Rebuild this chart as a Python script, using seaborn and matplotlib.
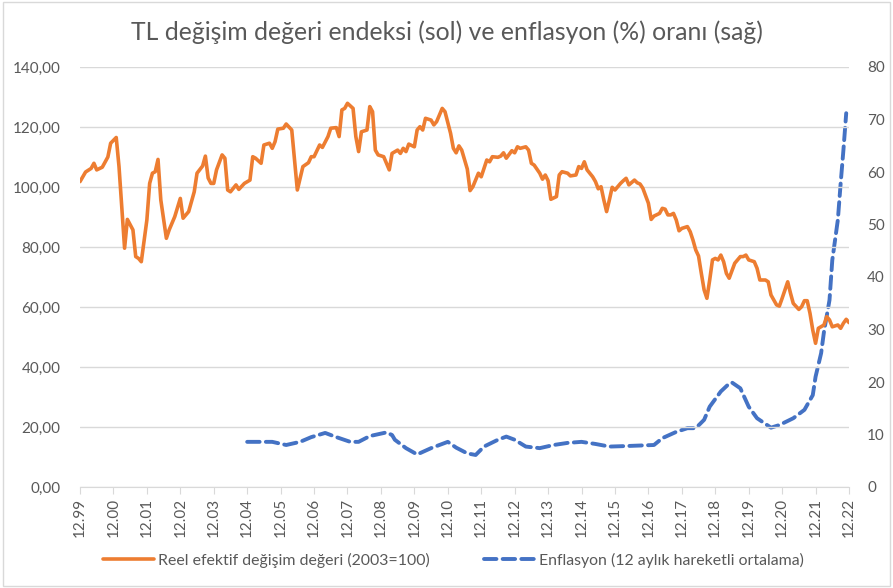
import pandas as pd
import numpy as np
from matplotlib import pyplot as plt
from matplotlib.patches import Rectangle
from matplotlib.ticker import FuncFormatter
import seaborn as sns

# %%
# Veriler (ay: 12.1999'dan itibaren ay sayısı)
reer_ay = [0, 2, 4, 5, 6, 8, 10, 11, 13, 14, 16, 17, 19, 20, 21, 22, 24, 25, 26, 27,
           28, 29, 31, 32, 34, 36, 37, 39, 41, 42, 44, 45, 46, 47, 48, 49, 51, 52, 53, 54,
           56, 57, 59, 61, 62, 63, 65, 66, 68, 69, 70, 71, 73, 74, 76, 78, 80, 82, 83, 84,
           86, 87, 89, 90, 92, 93, 94, 95, 96, 98, 99, 100, 101, 103, 104, 105, 106, 107, 109, 110,
           111, 112, 114, 115, 116, 117, 118, 120, 121, 122, 123, 124, 126, 127, 128, 130, 131, 133, 134, 135,
           136, 137, 139, 140, 141, 143, 144, 146, 147, 148, 150, 151, 152, 153, 155, 156, 157, 158, 160, 161,
           162, 163, 165, 166, 167, 168, 169, 171, 172, 173, 175, 176, 178, 179, 180, 181, 182, 184, 185, 186,
           187, 188, 189, 190, 191, 192, 194, 195, 196, 197, 199, 200, 201, 202, 204, 205, 206, 208, 209, 210,
           211, 212, 213, 214, 215, 216, 218, 219, 220, 221, 222, 223, 224, 225, 226, 227, 228, 229, 230, 231,
           232, 233, 235, 237, 238, 239, 240, 242, 243, 244, 246, 247, 248, 250, 251, 252, 254, 255, 256, 258,
           259, 260, 261, 262, 263, 264, 265, 267, 268, 269, 270, 272, 273, 274, 275, 276]
reer = [101.8, 105, 106.2, 107.9, 105.7, 106.6, 110, 114.6, 116.5, 106.8, 79.6, 89.2, 85.7, 76.8, 76.2, 75.1, 89, 101.2, 104.6, 105.1,
        109.2, 95.7, 82.9, 85.7, 90.1, 96.2, 89.6, 91.8, 98.4, 104.6, 107, 110.3, 103, 101.2, 101.2, 105.7, 110.7, 109.6, 99, 98.4,
        100.7, 99.2, 101.2, 102.3, 110.1, 109.6, 107.9, 114, 114.6, 112.9, 115.1, 119.3, 119.6, 121, 119, 99, 106.8, 108.1, 110.1, 110.1,
        114, 113.2, 116.8, 119.6, 119.8, 116.8, 125.7, 126.2, 127.9, 126.2, 116.8, 111.8, 118.4, 119, 126.8, 125.1, 112.3, 110.7, 110.1, 107.9,
        105.7, 111.2, 112.3, 111.2, 112.9, 111.8, 114.3, 113.4, 119, 120.1, 119, 122.9, 122.3, 120.7, 121.8, 126.2, 125.1, 117.9, 112.9, 111.4,
        113.7, 112.3, 106, 98.8, 100.1, 104.6, 103.4, 109, 108.4, 110.1, 109.9, 110.3, 111.4, 109.6, 112.1, 111.4, 113.4, 112.9, 113.4, 112.3,
        107.9, 107.3, 104.6, 102.6, 104, 102.1, 95.9, 96.8, 104, 105.1, 104.6, 103.7, 104, 106.8, 106.2, 108.4, 105.7, 103.4, 101.8, 99.4,
        100.1, 95.7, 91.8, 95.7, 99.9, 99, 101.2, 102.1, 102.9, 100.7, 102.3, 101.4, 101, 99.6, 94.6, 89.2, 90.3, 91.2, 92.9, 92.6,
        90.7, 90.7, 91.2, 89, 85.4, 86.2, 86.8, 85.1, 82.3, 79, 77, 71.2, 65.7, 62.9, 69, 75.7, 76.2, 75.7, 77.3, 75.1,
        71.2, 69.6, 74.6, 76.8, 76.8, 77.3, 75.7, 75.1, 72.9, 69, 69, 68.4, 64, 60.7, 60.3, 62.9, 68.4, 64.6, 61.2, 59.2,
        60.1, 62.1, 62.1, 57.9, 52.3, 47.9, 52.9, 54, 56.8, 55.7, 53.4, 54, 52.9, 54.6, 55.9, 54.8]

enf_ay = [60, 69, 74, 79, 83, 88, 92, 97, 100, 104, 110, 112, 113, 117, 121, 126, 129, 132, 135, 139,
          142, 145, 150, 153, 156, 160, 165, 170, 175, 180, 185, 190, 196, 201, 206, 209, 214, 218, 221, 224,
          226, 230, 233, 234, 237, 240, 243, 248, 251, 256, 260, 263, 264, 266, 267, 269, 270, 272, 273, 274, 275]
enf = [8.6, 8.6, 8.0, 8.6, 9.5, 10.3, 9.5, 8.6, 8.6, 9.7, 10.4, 9.9, 9.0, 7.4, 6.2, 7.4, 8.0, 8.6, 7.5, 6.4,
       6.1, 7.7, 9.0, 9.6, 9.0, 7.7, 7.4, 8.0, 8.4, 8.6, 8.2, 7.7, 7.8, 7.9, 8.0, 9.3, 10.5, 11.2, 11.2, 12.8,
       15.3, 18.2, 19.7, 19.9, 18.8, 15.3, 13.1, 11.3, 11.8, 13.1, 14.7, 17.5, 21, 25.5, 29.5, 35.6, 43.2, 50.9, 57.8, 64.2, 71.2]

yil_etiket = ["12.99", "12.00", "12.01", "12.02", "12.03", "12.04", "12.05", "12.06", "12.07", "12.08",
              "12.09", "12.10", "12.11", "12.12", "12.13", "12.14", "12.15", "12.16", "12.17", "12.18",
              "12.19", "12.20", "12.21", "12.22"]

df_reer = pd.DataFrame({"ay": reer_ay, "deger": reer})
df_enf = pd.DataFrame({"ay": enf_ay, "deger": enf})

# %%
sns.set_style("white")
plt.rcParams['font.family'] = ['Lato', 'DejaVu Sans']
gri = "#595959"
turuncu = "#ED7D31"
mavi = "#4472C4"

fig = plt.figure(figsize=(8.93, 5.88), dpi=100)
ax = fig.add_axes([80/893, 1-487/588, (849-80)/893, (487-67)/588])
ax2 = ax.twinx()

sns.lineplot(x="ay", y="deger", data=df_reer, ax=ax, color=turuncu, linewidth=2.6,
             label="Reel efektif değişim değeri (2003=100)", legend=False)
sns.lineplot(x="ay", y="deger", data=df_enf, ax=ax2, color=mavi, linewidth=2.8,
             dashes=False, label="Enflasyon (12 aylık hareketli ortalama)", legend=False)
ax2.lines[0].set_dashes((3.2, 1.6))
ax2.lines[0].set_dash_capstyle("round")

ax.set_xlim(0, 276)
ax.set_ylim(0, 140)
ax2.set_ylim(0, 80)
ax.set_yticks(np.arange(0, 141, 20))
ax2.set_yticks(np.arange(0, 81, 10))
ax.yaxis.set_major_formatter(FuncFormatter(lambda v, p: f"{v:.2f}".replace(".", ",")))
ax.set_xticks(np.arange(0, 277, 12))
ax.set_xticklabels(yil_etiket, rotation=90)
ax.grid(axis="y", color="#d9d9d9", linewidth=1)
ax.set_xlabel("")
ax.set_ylabel("")
ax2.set_ylabel("")

for a in (ax, ax2):
    for s in a.spines.values():
        s.set_visible(False)
ax.spines["bottom"].set_visible(True)
ax.spines["bottom"].set_color("#d9d9d9")
ax.tick_params(axis="y", length=0, pad=14, labelsize=11, labelcolor=gri)
ax2.tick_params(axis="y", length=0, pad=13, labelsize=11, labelcolor=gri)
ax.tick_params(axis="x", bottom=True, length=5, color="#d9d9d9", pad=3, labelsize=11, labelcolor=gri)
ax.set_zorder(2)
ax.patch.set_visible(False)
ax2.set_zorder(1)

fig.suptitle("TL değişim değeri endeksi (sol) ve enflasyon (%) oranı (sağ)", y=0.966,
             fontsize=17.8, color=gri)

h1, l1 = ax.get_legend_handles_labels()
h2, l2 = ax2.get_legend_handles_labels()
fig.legend(h1 + h2, l1 + l2, loc="center", bbox_to_anchor=(0.508, 1-560/588), ncol=2,
           frameon=False, fontsize=11.4, labelcolor=gri, handlelength=3.2, handletextpad=0.3,
           columnspacing=3.4)

fig.add_artist(Rectangle((0.003, 0.004), 0.994, 0.992, transform=fig.transFigure,
                         fill=False, edgecolor="#d9d9d9", linewidth=1))
plt.savefig("out.png", dpi=100)
